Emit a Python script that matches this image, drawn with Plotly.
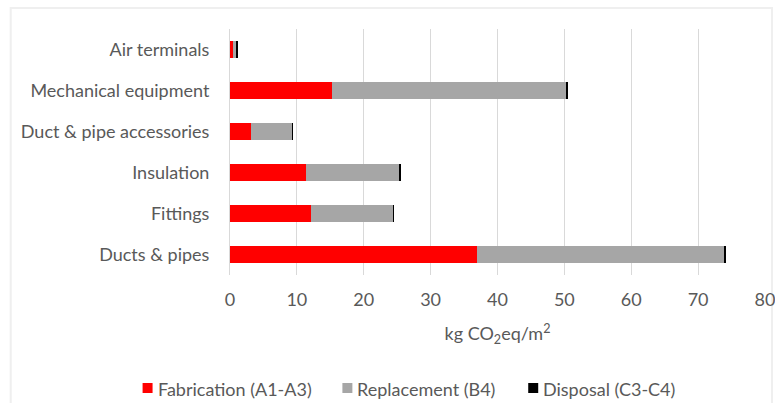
import plotly.graph_objects as go

categories = ["Ducts & pipes", "Fittings", "Insulation", "Duct & pipe accessories",
              "Mechanical equipment", "Air terminals"]
fabrication = [37.0, 12.1, 11.3, 3.1, 15.3, 0.5]
replacement = [36.8, 12.3, 14.0, 6.2, 35.0, 0.4]
disposal = [0.3, 0.05, 0.3, 0.05, 0.3, 0.3]
x_ticks = [0, 10, 20, 30, 40, 50, 60, 70, 80]
series_names = ["Fabrication (A1-A3)", "Replacement (B4)", "Disposal (C3-C4)"]
series_colors = ["#FF0000", "#A6A6A6", "#000000"]

FONT = "Lato"
TXT = "#595959"
FS = 18

W, H = 775, 403
left, right, top, bottom = 229.5, 765, 29, 275


def px_x(p):
    return (p - left) / (right - left)


def px_y(p):
    return (bottom - p) / (bottom - top)


fig = go.Figure()
for name, vals, col in zip(series_names, [fabrication, replacement, disposal], series_colors):
    fig.add_trace(go.Bar(y=categories, x=vals, name=name, orientation="h",
                         marker=dict(color=col, line=dict(width=0)), showlegend=False))

# manual legend (pixel positions of squares)
legend_x = [142, 342, 528]
legend_yc = 388
shapes = [dict(type="rect", xref="paper", yref="paper",
               x0=px_x(10), x1=px_x(772), y0=px_y(412), y1=px_y(8),
               line=dict(color="#EFEFEF", width=2), layer="below")]
annotations = []
for lx, name, col in zip(legend_x, series_names, series_colors):
    shapes.append(dict(type="rect", xref="paper", yref="paper",
                       x0=px_x(lx), x1=px_x(lx + 10),
                       y0=px_y(legend_yc + 5), y1=px_y(legend_yc - 5),
                       fillcolor=col, line=dict(width=0)))
    annotations.append(dict(text=name, xref="paper", yref="paper",
                            x=px_x(lx + 13), y=px_y(legend_yc + 0.5),
                            xanchor="left", yanchor="middle", showarrow=False,
                            font=dict(size=FS, color=TXT, family=FONT)))

fig.update_layout(
    width=W, height=H,
    barmode="stack", bargap=0.6,
    margin=dict(l=left, r=W - right, t=top, b=H - bottom, pad=0, autoexpand=False),
    paper_bgcolor="white", plot_bgcolor="white",
    font=dict(family=FONT, size=FS, color=TXT),
    showlegend=False,
    xaxis=dict(range=[0, 80.001], tickvals=x_ticks, showgrid=True, gridcolor="#D9D9D9",
               gridwidth=1, zeroline=False, showline=False, ticks="",
               automargin=False, ticklabeloverflow="allow",
               ticklabelstandoff=12, tickfont=dict(size=FS, color=TXT),
               title=dict(text="kg CO<sub>2</sub>eq/m<sup>2</sup>", standoff=18,
                          font=dict(size=FS, color=TXT)),
               fixedrange=True),
    yaxis=dict(categoryorder="array", categoryarray=categories, showgrid=False,
               showline=True, linecolor="#D9D9D9", linewidth=1, ticks="",
               automargin=False,
               ticklabelstandoff=16, tickfont=dict(size=FS, color=TXT),
               fixedrange=True),
    shapes=shapes,
    annotations=annotations,
)
fig.write_html("out.html",
               config={"displayModeBar": False},
               post_script="document.body.style.margin='0';"
                           "document.body.style.overflow='hidden';")
